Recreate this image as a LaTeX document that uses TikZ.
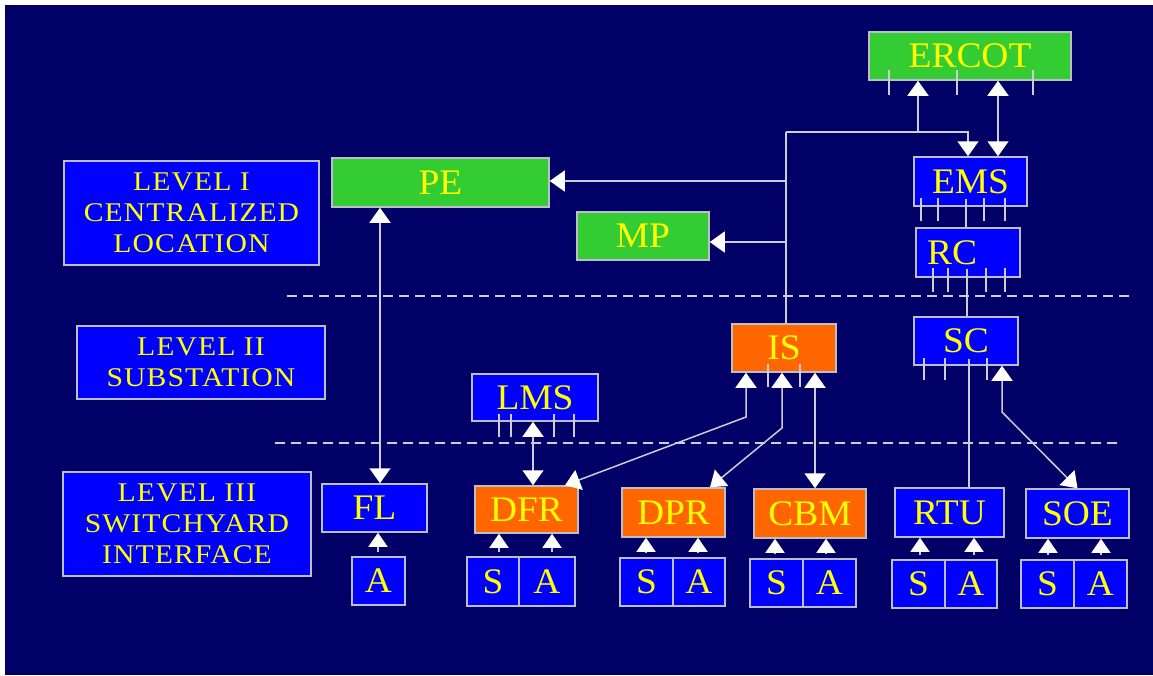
\documentclass[tikz,border=0pt]{standalone}
\usepackage{fontspec}
\setmainfont{Liberation Serif}
\newfontfamily\boxfont{Liberation Serif}[FakeStretch=1.04]
\newfontfamily\lvlfont{Liberation Serif}[FakeStretch=1.1,LetterSpace=4]
\usetikzlibrary{arrows.meta}
\definecolor{bgnavy}{RGB}{0,0,102}
\definecolor{boxblue}{RGB}{0,0,255}
\definecolor{boxgreen}{RGB}{51,204,51}
\definecolor{boxorange}{RGB}{255,102,0}
\definecolor{txtyellow}{RGB}{255,255,0}
\definecolor{linegray}{RGB}{205,205,215}
\definecolor{boxline}{RGB}{190,190,200}
\begin{document}
\begin{tikzpicture}[x=1pt,y=-1pt,
  box/.style={draw=boxline, line width=1.5pt, text=txtyellow, font=\boxfont\fontsize{36}{38}\selectfont, inner sep=0pt, anchor=center},
  bluebox/.style={box, fill=boxblue},
  greenbox/.style={box, fill=boxgreen},
  orangebox/.style={box, fill=boxorange},
  lvlbox/.style={box, fill=boxblue, align=center, font=\lvlfont\fontsize{27}{31}\selectfont},
  sz/.style 2 args={minimum width=#1, minimum height=#2},
  ln/.style={draw=linegray, line width=1.5pt},
  tip/.tip={Triangle[width=21pt,length=15pt,color=white]},
  smalltip/.tip={Triangle[width=19pt,length=14pt,color=white]},
  arr/.style={ln, -tip},
  sarr/.style={ln, -smalltip, shorten <=4pt},
  darr/.style={ln, tip-tip},
  tick/.style={ln},
  sep/.style={draw=linegray, line width=1.5pt, dash pattern=on 10pt off 6pt}]
\useasboundingbox (0,0) rectangle (1153,675);
\fill[white] (0,0) rectangle (1153,675);
\fill[bgnavy] (5,5) rectangle (1153,675);

% level separators
\draw[sep] (287,296) -- (1130,296);
\draw[sep] (275,443) -- (1118,443);

% level boxes
\node[lvlbox, sz={255}{104}] (L1) at (191.5,213) {LEVEL I\\CENTRALIZED\\LOCATION};
\node[lvlbox, sz={248}{73}] (L2) at (201,362.5) {LEVEL II\\SUBSTATION};
\node[lvlbox, sz={248}{104}] (L3) at (187,524) {LEVEL III\\SWITCHYARD\\INTERFACE};

% level I
\node[greenbox, sz={202}{48}] (ERCOT) at (970,56) {ERCOT};
\node[bluebox, sz={113}{49}] (EMS) at (970.5,181.5) {EMS};
\node[bluebox, sz={104}{49}, label={[box, draw=none, xshift=-16pt]center:RC}] (RC) at (968,252.5) {};
\node[greenbox, sz={217}{49}] (PE) at (440.5,182.5) {PE};
\node[greenbox, sz={132}{48}] (MP) at (643,236) {MP};

% level II
\node[orangebox, sz={104}{48}] (IS) at (784,348) {IS};
\node[bluebox, sz={104}{48}] (SC) at (966,341) {SC};
\node[bluebox, sz={126}{47}] (LMS) at (535,397.5) {LMS};

% level III
\node[bluebox, sz={105}{48}] (FL) at (374.5,508) {FL};
\node[bluebox, sz={53}{48}] (flA) at (378.5,581) {A};
\node[orangebox, sz={103}{47}] (DFR) at (526.5,509.5) {DFR};
\node[bluebox, sz={52}{49}] (dfrS) at (493,581.5) {S};
\node[bluebox, sz={56}{49}] (dfrA) at (547,581.5) {A};
\node[orangebox, sz={103}{49}] (DPR) at (673.5,512.5) {DPR};
\node[bluebox, sz={53}{48}] (dprS) at (646.5,582) {S};
\node[bluebox, sz={52}{48}] (dprA) at (699,582) {A};
\node[orangebox, sz={112}{49}] (CBM) at (810,513.5) {CBM};
\node[bluebox, sz={53}{48}] (cbmS) at (776.5,583) {S};
\node[bluebox, sz={53}{48}] (cbmA) at (829.5,583) {A};
\node[bluebox, sz={109}{49}] (RTU) at (949.5,512.5) {RTU};
\node[bluebox, sz={53}{48}] (rtuS) at (918.5,584) {S};
\node[bluebox, sz={52}{48}] (rtuA) at (971,584) {A};
\node[bluebox, sz={103}{49}] (SOE) at (1077.5,513.5) {SOE};
\node[bluebox, sz={53}{48}] (soeS) at (1047.5,584) {S};
\node[bluebox, sz={53}{48}] (soeA) at (1100.5,584) {A};

% helper coordinates
\coordinate (jA) at (786,132);
\coordinate (jB) at (918,132);
\coordinate (jC) at (968,132);
\coordinate (jMP) at (786,242);
\coordinate (jPE) at (786,181);
\coordinate (xE2) at (998,0);
\coordinate (xB) at (966,0);
\coordinate (xC) at (967,0);
\coordinate (xD) at (969,0);
\coordinate (xE) at (1002,0);
\coordinate (kSOE) at (1002,412);
\coordinate (xI1) at (746,0);
\coordinate (kDFR) at (746,417);
\coordinate (xI2) at (782,0);
\coordinate (kDPR) at (782,428);
\coordinate (xI3) at (815,0);
\coordinate (xL) at (533,0);
\coordinate (xP) at (380,0);
\coordinate (xDt) at (565,0);
\coordinate (xPt) at (710,0);

% level I connectors
\draw[ln] (IS.north -| jA) -- (jA);
\draw[arr] (jA) -- (jC) -- (EMS.north -| jC);
\draw[arr] (jB) -- (ERCOT.south -| jB);
\draw[darr] (ERCOT.south -| xE2) -- (EMS.north -| xE2);
\draw[arr] (jPE) -- (jPE -| PE.east);
\draw[arr] (jMP) -- (jMP -| MP.east);
\draw[ln, shorten <=-8pt] (EMS.south -| xB) -- (RC.north -| xB);
\draw[ln, shorten <=-9pt] (RC.south -| xC) -- (SC.north -| xC);
\draw[ln, shorten <=-7pt] (SC.south -| xD) -- (RTU.north -| xD);
\draw[darr] (SC.south -| xE) -- (kSOE) -- (SOE.north);
\draw[darr] (PE.south -| xP) -- (FL.north -| xP);

% IS connectors
\draw[darr] (IS.south -| xI1) -- (kDFR) -- (DFR.north -| xDt);
\draw[darr] (IS.south -| xI2) -- (kDPR) -- (DPR.north -| xPt);
\draw[darr] (IS.south -| xI3) -- (CBM.north -| xI3);
\draw[darr] (LMS.south -| xL) -- (DFR.north -| xL);

% sensor / actuator arrows
\coordinate (a1) at (378,0);
\coordinate (a2) at (499,0);
\coordinate (a3) at (552,0);
\coordinate (a4) at (646,0);
\coordinate (a5) at (698,0);
\coordinate (a6) at (775,0);
\coordinate (a7) at (826,0);
\coordinate (a8) at (920,0);
\coordinate (a9) at (974,0);
\coordinate (a10) at (1048,0);
\coordinate (a11) at (1101,0);
\draw[sarr] (flA.north -| a1) -- (FL.south -| a1);
\draw[sarr] (dfrS.north -| a2) -- (DFR.south -| a2);
\draw[sarr] (dfrA.north -| a3) -- (DFR.south -| a3);
\draw[sarr] (dprS.north -| a4) -- (DPR.south -| a4);
\draw[sarr] (dprA.north -| a5) -- (DPR.south -| a5);
\draw[sarr] (cbmS.north -| a6) -- (CBM.south -| a6);
\draw[sarr] (cbmA.north -| a7) -- (CBM.south -| a7);
\draw[sarr] (rtuS.north -| a8) -- (RTU.south -| a8);
\draw[sarr] (rtuA.north -| a9) -- (RTU.south -| a9);
\draw[sarr] (soeS.north -| a10) -- (SOE.south -| a10);
\draw[sarr] (soeA.north -| a11) -- (SOE.south -| a11);

% ticks (stub lines)
\foreach \x in {889,957,1033} \draw[tick] (\x,70) -- (\x,95);
\foreach \x in {921,938,984,1005} \draw[tick] (\x,198) -- (\x,221);
\foreach \x in {933,948,986,1005} \draw[tick] (\x,268) -- (\x,292);
\foreach \x in {924,945,987} \draw[tick] (\x,358) -- (\x,380);
\foreach \x in {768,800} \draw[tick] (\x,364) -- (\x,387);
\foreach \x in {499,511,554,574} \draw[tick] (\x,414) -- (\x,437);
\end{tikzpicture}
\end{document}
